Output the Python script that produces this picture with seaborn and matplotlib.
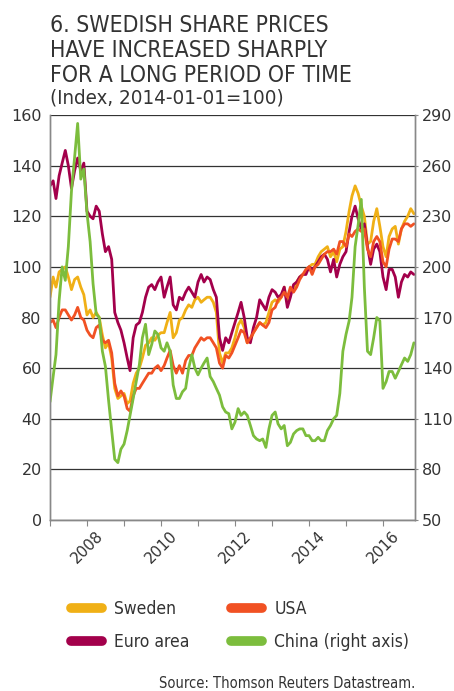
import pandas as pd
import seaborn as sns
import matplotlib.pyplot as plt
import matplotlib.transforms as mtransforms
from matplotlib.lines import Line2D
from matplotlib import font_manager

# Månadsdata, index 2014-01-01=100
months = pd.date_range("2007-01-01", "2016-11-01", freq="MS")

sweden = [
    88, 96, 92, 98, 99, 100, 96, 91, 95, 96, 92, 89,
    81, 83, 80, 82, 80, 73, 68, 70, 64, 52, 48, 49,
    50, 46, 47, 54, 58, 60, 64, 69, 70, 72, 71, 73,
    74, 74, 78, 82, 72, 74, 79, 80, 83, 85, 84, 87,
    88, 86, 87, 88, 88, 86, 82, 66, 62, 66, 66, 68,
    72, 77, 79, 76, 70, 71, 74, 76, 78, 77, 78, 82,
    86, 87, 86, 88, 92, 86, 90, 91, 94, 96, 97, 98,
    100, 101, 101, 104, 106, 107, 108, 104, 106, 102, 107, 108,
    114, 122, 128, 132, 129, 124, 120, 109, 110, 118, 123, 116,
    108, 104, 112, 115, 116, 109, 115, 118, 120, 123, 121,
]
usa = [
    78, 79, 76, 80, 83, 83, 81, 79, 81, 84, 80, 79,
    75, 73, 72, 76, 77, 71, 70, 71, 66, 54, 49, 51,
    49, 44, 43, 49, 52, 52, 54, 56, 58, 58, 60, 61,
    59, 61, 64, 67, 61, 58, 61, 58, 63, 65, 65, 68,
    70, 72, 71, 72, 72, 70, 68, 62, 60, 65, 64, 66,
    69, 72, 75, 74, 70, 72, 74, 76, 78, 77, 76, 78,
    83, 84, 87, 88, 90, 88, 92, 90, 92, 95, 97, 99,
    100, 97, 100, 101, 103, 105, 106, 106, 107, 105, 110, 110,
    108, 113, 112, 114, 115, 114, 115, 107, 104, 110, 112, 110,
    102, 100, 107, 111, 111, 110, 115, 117, 117, 116, 117,
]
euro_area = [
    132, 134, 127, 136, 141, 146, 140, 131, 138, 143, 138, 141,
    122, 120, 119, 124, 122, 113, 106, 108, 103, 82, 78, 75,
    70, 64, 59, 72, 77, 78, 82, 88, 92, 93, 91, 94,
    96, 88, 92, 96, 85, 83, 88, 87, 90, 92, 90, 88,
    94, 97, 94, 96, 95, 91, 88, 72, 67, 72, 70, 74,
    78, 82, 86, 80, 72, 70, 76, 80, 87, 85, 83, 88,
    91, 90, 88, 89, 92, 84, 88, 93, 94, 96, 97, 97,
    100, 99, 100, 102, 104, 105, 103, 98, 103, 96, 101, 104,
    106, 114, 120, 124, 119, 115, 117, 108, 101, 107, 109, 106,
    96, 91, 99, 99, 96, 88, 94, 97, 96, 98, 97,
]
china = [
    120, 135, 148, 180, 200, 192, 212, 245, 265, 285, 252, 258,
    232, 215, 190, 172, 170, 150, 141, 121, 103, 86, 84, 92,
    95, 103, 112, 122, 132, 142, 158, 166, 148, 154, 162, 160,
    152, 150, 155, 150, 130, 122, 122, 126, 128, 140, 148, 140,
    136, 140, 143, 146, 135, 132, 128, 124, 117, 114, 113, 104,
    108, 116, 112, 114, 112, 106, 100, 98, 97, 98, 93, 104,
    112, 114, 107, 104, 106, 94, 96, 101, 103, 104, 104, 100,
    100, 97, 97, 99, 97, 97, 103, 106, 110, 112, 125, 150,
    160, 168, 182, 212, 225, 240, 188, 150, 148, 158, 170, 168,
    128, 132, 138, 138, 134, 138, 142, 146, 144, 148, 155,
]

left_ticks = [0, 20, 40, 60, 80, 100, 120, 140, 160]
right_ticks = [50, 80, 110, 140, 170, 200, 230, 260, 290]
year_ticks = list(range(2007, 2017))

colors = {
    "Sweden": "#F0B016",
    "USA": "#F15123",
    "Euro area": "#A3004B",
    "China (right axis)": "#7CBD3D",
}

df = pd.DataFrame({"date": months, "Sweden": sweden, "USA": usa,
                   "Euro area": euro_area, "China (right axis)": china})

sns.set_style("white")
names = {f.name for f in font_manager.fontManager.ttflist}
narrow = "Liberation Sans Narrow" if "Liberation Sans Narrow" in names else "DejaVu Sans"
plt.rcParams["font.family"] = ["DejaVu Sans"]

fig = plt.figure(figsize=(4.54, 6.91), dpi=100)
ax = fig.add_axes([50 / 454, 1 - 520 / 691, 365 / 454, 405 / 691])
ax2 = ax.twinx()

for name in ["Sweden", "Euro area", "USA"]:
    sns.lineplot(data=df, x="date", y=name, ax=ax, color=colors[name],
                 linewidth=2.0, legend=False)
sns.lineplot(data=df, x="date", y="China (right axis)", ax=ax2,
             color=colors["China (right axis)"], linewidth=2.0, legend=False)

ax.set_ylim(0, 160)
ax.set_yticks(left_ticks)
ax2.set_ylim(50, 290)
ax2.set_yticks(right_ticks)
ax.set_xlim(pd.Timestamp("2007-01-01"), pd.Timestamp("2016-11-12"))
ax.set_xticks([pd.Timestamp(f"{y}-01-01") for y in year_ticks])
ax.set_xticklabels([str(y) if y % 2 == 0 else "" for y in year_ticks],
                   rotation=45, ha="center")
offset = mtransforms.ScaledTranslation(7 / 100, 0, fig.dpi_scale_trans)
for lab in ax.get_xticklabels():
    lab.set_transform(lab.get_transform() + offset)

ax.set_xlabel("")
ax.set_ylabel("")
ax2.set_ylabel("")
ax.yaxis.grid(True, color="#333333", linewidth=0.9)
ax.set_axisbelow(True)
ax2.patch.set_visible(False)

for a in (ax, ax2):
    for side in ("left", "right", "bottom"):
        a.spines[side].set_color("#888888")
        a.spines[side].set_linewidth(1.0)
    a.spines["top"].set_visible(False)
ax.tick_params(axis="y", length=0, labelsize=11.5, labelcolor="#333333", pad=6)
ax2.tick_params(axis="y", length=2, color="#888888", labelsize=11.5,
                labelcolor="#333333", pad=3)
ax.tick_params(axis="x", length=4, color="#888888", direction="out",
               labelsize=11, labelcolor="#333333", pad=2, bottom=True)

# Rubrik
title_lines = ["6. SWEDISH SHARE PRICES", "HAVE INCREASED SHARPLY",
               "FOR A LONG PERIOD OF TIME"]
for i, line in enumerate(title_lines):
    fig.text(50 / 454, 1 - (32 + 25 * i) / 691, line, family=narrow,
             fontstretch="condensed", fontsize=16.5, color="#333333",
             ha="left", va="baseline")
fig.text(50 / 454, 1 - 104 / 691, "(Index, 2014-01-01=100)", family=narrow,
         fontstretch="condensed", fontsize=14.7, color="#333333",
         ha="left", va="baseline")

# Teckenförklaring
handles = [Line2D([], [], color=colors[n], linewidth=7, solid_capstyle="round")
           for n in ["Sweden", "Euro area", "USA", "China (right axis)"]]
leg = fig.legend(handles, ["Sweden", "Euro area", "USA", "China (right axis)"],
                 ncol=2, loc="upper left", bbox_to_anchor=(55 / 454, 1 - 584 / 691),
                 frameon=False, handlelength=1.8, handletextpad=0.7,
                 columnspacing=2.4, labelspacing=0.9,
                 prop={"family": narrow, "stretch": "condensed", "size": 12.5})
for t in leg.get_texts():
    t.set_color("#333333")

fig.text(415 / 454, 1 - 688 / 691, "Source: Thomson Reuters Datastream.",
         family=narrow, fontstretch="condensed", fontsize=10.5, color="#333333",
         ha="right", va="baseline")

fig.savefig("out.png", dpi=100)
